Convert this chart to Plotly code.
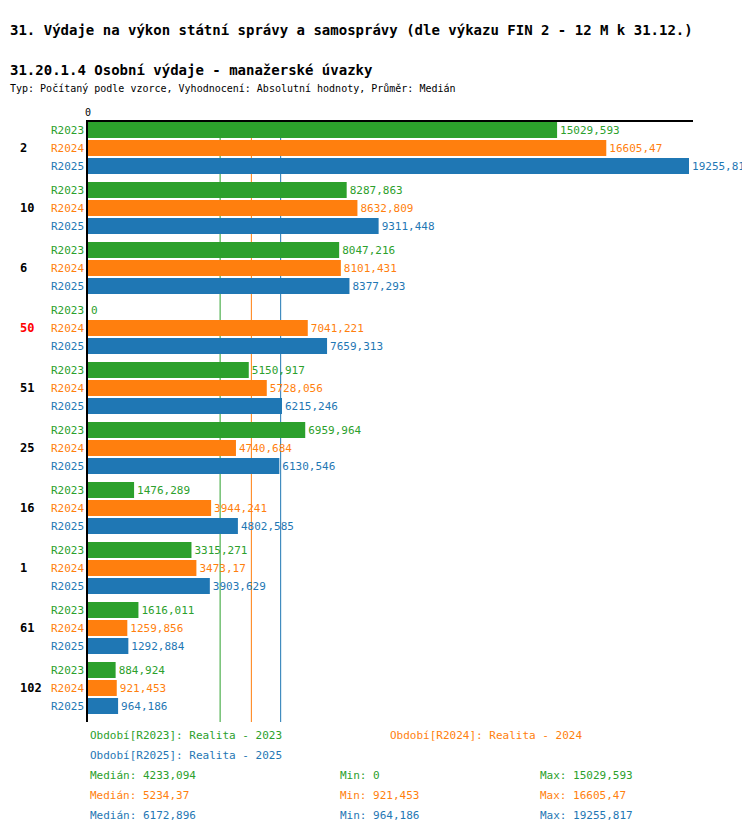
import numpy as np
import plotly.graph_objects as go

groups = ["2", "10", "6", "50", "51", "25", "16", "1", "61", "102"]
series = ["R2023", "R2024", "R2025"]
colors = ["#2ca02c", "#ff7f0e", "#1f77b4"]
values = {
    "R2023": [15029.593, 8287.863, 8047.216, 0, 5150.917, 6959.964, 1476.289, 3315.271, 1616.011, 884.924],
    "R2024": [16605.47, 8632.809, 8101.431, 7041.221, 5728.056, 4740.684, 3944.241, 3473.17, 1259.856, 921.453],
    "R2025": [19255.817, 9311.448, 8377.293, 7659.313, 6215.246, 6130.546, 4802.585, 3903.629, 1292.884, 964.186],
}
legend_names = ["Realita - 2023", "Realita - 2024", "Realita - 2025"]
red_groups = ["50"]

FONT = "DejaVu Sans Mono"
L, R, T, B = 80, 65, 114, 120
W, H = 750, 834
PW, PH = W - L - R, H - T - B


def fmt(v):
    s = f"{v:.3f}".rstrip("0").rstrip(".")
    return s.replace(".", ",")


def px(x):
    return (x - L) / PW


def py(y):
    return 1 - (y - T) / PH


fig = go.Figure()
for k, s in enumerate(series):
    ys = [g * 60 + 8 + k * 18 for g in range(len(groups))]
    fig.add_trace(go.Bar(
        x=values[s], y=ys, orientation="h", width=16,
        marker=dict(color=colors[k], line=dict(width=0)),
        text=[fmt(v) for v in values[s]], textposition="outside",
        textfont=dict(family=FONT, size=11, color=colors[k]),
        cliponaxis=False, showlegend=False,
    ))

ann = []
for g, name in enumerate(groups):
    yc = g * 60 + 26
    ann.append(dict(x=px(10), y=yc, xref="paper", yref="y", text=f"<b>{name}</b>",
                    showarrow=False, xanchor="left",
                    font=dict(family=FONT, size=12, color="red" if name in red_groups else "black")))
    for k, s in enumerate(series):
        ann.append(dict(x=px(78), y=g * 60 + 8 + k * 18, xref="paper", yref="y", text=s,
                        showarrow=False, xanchor="right",
                        font=dict(family=FONT, size=11, color=colors[k])))

shapes = []
for k, s in enumerate(series):
    m = float(np.median(values[s]))
    shapes.append(dict(type="line", x0=m, x1=m, y0=0, y1=600, xref="x", yref="y",
                       line=dict(color=colors[k], width=1), layer="below"))

# titles
ann.append(dict(x=px(0), y=py(12), xref="paper", yref="paper", xanchor="left", showarrow=False,
                text="<b>31. Výdaje na výkon státní správy a samosprávy (dle výkazu FIN 2 - 12 M k 31.12.)</b>",
                font=dict(family=FONT, size=14, color="black")))
ann.append(dict(x=px(0), y=py(52), xref="paper", yref="paper", xanchor="left", showarrow=False,
                text="<b>31.20.1.4 Osobní výdaje - manažerské úvazky</b>",
                font=dict(family=FONT, size=14, color="black")))
ann.append(dict(x=px(0), y=py(73), xref="paper", yref="paper", xanchor="left", showarrow=False,
                text="Typ: Počítaný podle vzorce, Vyhodnocení: Absolutní hodnoty, Průměr: Medián",
                font=dict(family=FONT, size=10, color="black")))

# legend / stats
leg_pos = [(80, 736), (380, 736), (80, 756)]
for k, s in enumerate(series):
    x0, y0 = leg_pos[k]
    ann.append(dict(x=px(x0), y=py(y0), xref="paper", yref="paper", xanchor="left", showarrow=False,
                    text=f"Období[{s}]: {legend_names[k]}",
                    font=dict(family=FONT, size=11, color=colors[k])))
    vals = values[s]
    y1 = 776 + k * 20
    for x1, txt in [(80, f"Medián: {fmt(float(np.median(vals)))}"),
                    (330, f"Min: {fmt(min(vals))}"),
                    (530, f"Max: {fmt(max(vals))}")]:
        ann.append(dict(x=px(x1), y=py(y1), xref="paper", yref="paper", xanchor="left", showarrow=False,
                        text=txt, font=dict(family=FONT, size=11, color=colors[k])))

xmax = max(values["R2025"]) * PW / 601
fig.update_layout(
    width=W, height=H, margin=dict(l=L, r=R, t=T, b=B),
    plot_bgcolor="white", paper_bgcolor="white",
    barmode="overlay", annotations=ann, shapes=shapes,
    font=dict(family=FONT, size=11, color="black"),
    xaxis=dict(range=[0, xmax], side="top", tickvals=[0], ticktext=["0"], showgrid=False,
               zeroline=False, showline=True, linecolor="black", linewidth=2, ticks="",
               tickfont=dict(family=FONT, size=10)),
    yaxis=dict(range=[600, 0], showticklabels=False, showgrid=False, zeroline=False,
               showline=True, linecolor="black", linewidth=2, ticks=""),
)
fig.write_html("out.html")
